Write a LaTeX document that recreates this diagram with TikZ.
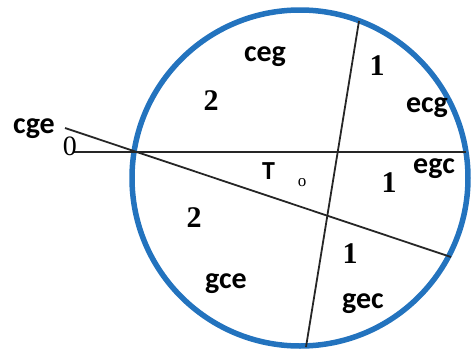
\documentclass[tikz,border=0pt]{standalone}
\usepackage{fontspec}
\setmainfont{Liberation Serif}
\newfontfamily\calib{Carlito}
\usepackage{tikz}
\usetikzlibrary{positioning}
\definecolor{rimblue}{RGB}{35,115,190}

\begin{document}
\begin{tikzpicture}[
  x=1pt, y=-1pt,
  rim/.style={draw=rimblue, line width=5.5pt},
  cut/.style={draw=black!85, line width=1.8pt},
  perm/.style={font=\calib\bfseries\fontsize{30}{30}\selectfont, anchor=base, inner sep=0pt},
  num/.style={font=\bfseries\fontsize{30}{30}\selectfont, anchor=base, inner sep=0pt},
]
  \useasboundingbox (0,0) rectangle (472,354);

  % circle
  \coordinate (o) at (300,178);
  \draw[rim] (o) circle[radius=168];

  % end points of the three cuts
  \coordinate (hA) at (73,152);
  \coordinate (hB) at (466,152);
  \coordinate (dA) at (65,128);
  \coordinate (dB) at (451,257);
  \coordinate (sA) at (359,21);
  \coordinate (sB) at (306,347);

  \draw[cut] (hA) -- (hB);
  \draw[cut] (dA) -- (dB);
  \draw[cut] (sA) -- (sB);

  % labels
  \node[perm] (cge) at (34,133) {cge};
  \node[num, font=\fontsize{28}{28}\selectfont] (zero) at (70,155) {0};
  \node[perm] (ceg) at (265,61) {ceg};
  \node[perm] (ecg) at (427,112) {ecg};
  \node[perm] (egc) at (434,173) {egc};
  \node[perm] (gce) at (226,288) {gce};
  \node[perm] (gec) at (363,308) {gec};

  \node[num] (n2a) at (211,110) {2};
  \node[num] (n1a) at (377,75) {1};
  \node[num] (n1b) at (389,192) {1};
  \node[num] (n2b) at (194,227) {2};
  \node[num] (n1c) at (350,263) {1};

  \node[perm, font=\calib\bfseries\fontsize{26}{26}\selectfont] (tt) at (268.5,179) {T};
  \node[anchor=base, inner sep=0pt, font=\fontsize{17}{17}\selectfont] (to) at (302,186) {o};
\end{tikzpicture}
\end{document}
